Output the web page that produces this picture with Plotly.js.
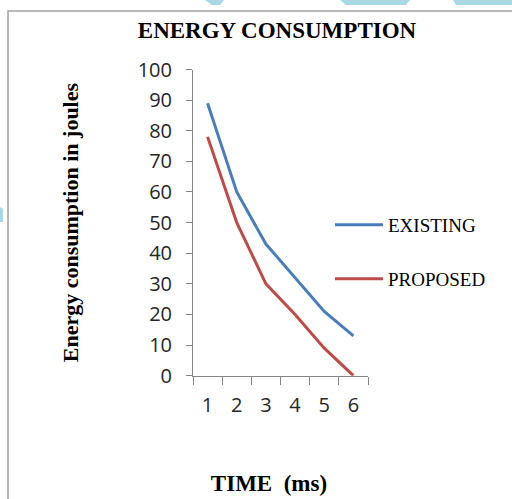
<!DOCTYPE html>
<html>
<head>
<meta charset="utf-8">
<script src="https://cdn.plot.ly/plotly-3.0.1.min.js"></script>
<style>html,body{margin:0;padding:0;background:#fff;}#chart{width:512px;height:499px;}</style>
</head>
<body>
<div id="chart"></div>
<script>
// ---- data ----
var timeLabels = ['1', '2', '3', '4', '5', '6'];
var existingValues = [89, 60, 43, 32, 21, 13];
var proposedValues = [78, 50, 30, 20, 9, 0];
var yTickValues = [0, 10, 20, 30, 40, 50, 60, 70, 80, 90, 100];

var W = 512, H = 499;
function px(x) { return x / W; }
function py(y) { return 1 - y / H; }

var serif = '"Liberation Serif", "Times New Roman", serif';
var tickFont = {family: '"Open Sans", sans-serif', size: 20, color: '#262626'};

var traces = [
  {
    x: timeLabels, y: existingValues, type: 'scatter', mode: 'lines',
    name: 'EXISTING', line: {color: '#4a7ebb', width: 3}, legend: 'legend'
  },
  {
    x: timeLabels, y: proposedValues, type: 'scatter', mode: 'lines',
    name: 'PROPOSED', line: {color: '#be4b48', width: 3}, legend: 'legend2'
  }
];

var watermark = 'rgba(160,212,226,0.9)';
var layout = {
  width: W, height: H,
  margin: {l: 0, r: 0, t: 0, b: 0},
  paper_bgcolor: '#ffffff', plot_bgcolor: 'rgba(0,0,0,0)',
  showlegend: true,
  title: {
    text: '<b>ENERGY CONSUMPTION</b>',
    font: {family: serif, size: 23, color: '#000'},
    x: px(277), y: py(30), xanchor: 'center', yanchor: 'middle'
  },
  xaxis: {
    type: 'category',
    domain: [px(193), px(368)],
    range: [-0.5, 5.5],
    showgrid: false, zeroline: false,
    showline: true, linecolor: '#868686', linewidth: 1,
    ticks: 'outside', tickson: 'boundaries', ticklen: 8, tickcolor: '#868686',
    tickfont: tickFont,
    ticklabelstandoff: 11,
    title: {text: '<b>TIME\u00a0 (ms)\u00a0\u00a0\u00a0\u00a0</b>', font: {family: serif, size: 23, color: '#000'}, standoff: 58},
    fixedrange: true
  },
  yaxis: {
    domain: [py(375.7), py(69.5)],
    range: [0, 100],
    tickvals: yTickValues,
    showgrid: false, zeroline: false,
    showline: true, linecolor: '#868686', linewidth: 1,
    ticks: 'outside', ticklen: 6, tickcolor: '#868686',
    tickfont: tickFont,
    ticklabelstandoff: 10,
    title: {text: '<b>Energy consumption in joules</b>', font: {family: serif, size: 22, color: '#000'}, standoff: 52},
    fixedrange: true
  },
  legend: {
    x: px(330), y: py(225), xanchor: 'left', yanchor: 'middle',
    bgcolor: 'rgba(0,0,0,0)', itemwidth: 48,
    font: {family: serif, size: 19, color: '#000'}
  },
  legend2: {
    x: px(330), y: py(279), xanchor: 'left', yanchor: 'middle',
    bgcolor: 'rgba(0,0,0,0)', itemwidth: 48,
    font: {family: serif, size: 19, color: '#000'}
  },
  shapes: [
    {type: 'rect', xref: 'paper', yref: 'paper', x0: px(8), x1: px(530), y0: py(520), y1: py(11),
     line: {color: '#a0a0a0', width: 1.5}, fillcolor: 'rgba(0,0,0,0)', layer: 'below'},
    {type: 'path', xref: 'paper', yref: 'paper', fillcolor: watermark, line: {width: 0}, layer: 'below',
     path: 'M' + px(205) + ',' + py(0) + ' L' + px(224) + ',' + py(0) + ' L' + px(220) + ',' + py(5) + ' L' + px(212) + ',' + py(5) + ' Z'},
    {type: 'path', xref: 'paper', yref: 'paper', fillcolor: watermark, line: {width: 0}, layer: 'below',
     path: 'M' + px(340) + ',' + py(0) + ' L' + px(410) + ',' + py(0) + ' L' + px(406) + ',' + py(5) + ' L' + px(346) + ',' + py(5) + ' Z'},
    {type: 'path', xref: 'paper', yref: 'paper', fillcolor: watermark, line: {width: 0}, layer: 'below',
     path: 'M' + px(453) + ',' + py(0) + ' L' + px(512) + ',' + py(0) + ' L' + px(512) + ',' + py(5) + ' L' + px(456) + ',' + py(5) + ' Z'},
    {type: 'path', xref: 'paper', yref: 'paper', fillcolor: watermark, line: {width: 0}, layer: 'below',
     path: 'M' + px(0) + ',' + py(207) + ' L' + px(3) + ',' + py(209) + ' L' + px(3) + ',' + py(222) + ' L' + px(0) + ',' + py(222) + ' Z'}
  ]
};

Plotly.newPlot('chart', traces, layout, {displayModeBar: false, staticPlot: true});
</script>
</body>
</html>
